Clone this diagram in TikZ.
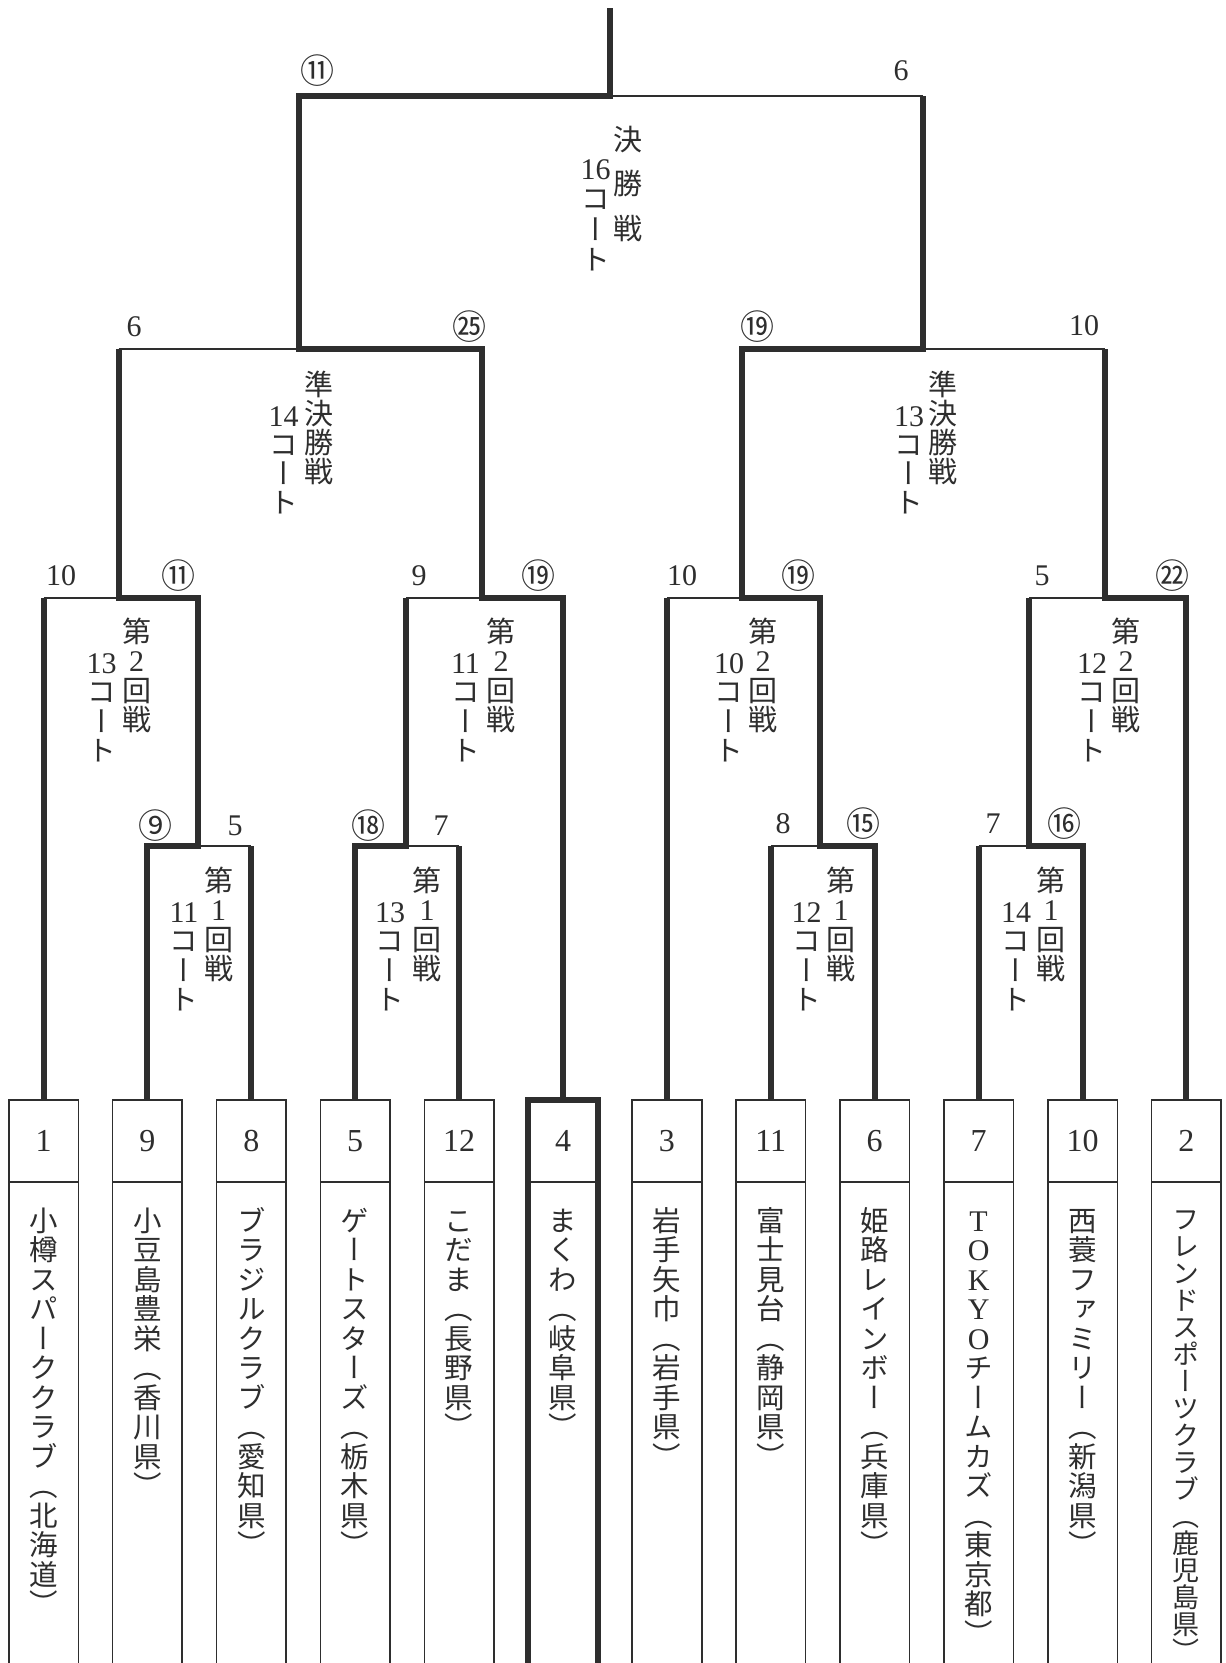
\documentclass[tikz,border=0pt]{standalone}
\usepackage{fontspec}
\newfontfamily\jpv{Noto Sans CJK JP}[RawFeature=+vert]
\newfontfamily\jpc{Noto Sans CJK JP}
\newfontfamily\serd{Liberation Serif}
\definecolor{ink}{gray}{0.18}
\newdimen\tateht \newdimen\tatedp \newdimen\tatewd
\newcommand\tatechar[1]{\hbox to\tatewd{\hss\vrule width0pt height\tateht depth\tatedp\relax\smash{#1}\hss}}
\def\tateloop#1{\ifx\relax#1\else\tatechar{#1}\expandafter\tateloop\fi}
\newcommand\vtext[2][14.75pt]{\vbox{\offinterlineskip
  \tateht=\dimexpr(#1+0.76em)/2\relax
  \tatedp=\dimexpr(#1-0.76em)/2\relax
  \tatewd=1.6em
  \tateloop#2\relax}}
\newcommand\digf{\serd\fontsize{15pt}{15pt}\selectfont}
\tikzset{
 thickln/.style={line width=3pt, draw=ink, line join=miter},
 thinln/.style={line width=0.8pt, draw=ink},
 teambox/.style={minimum width=34.8pt, minimum height=281.5pt, inner sep=0pt, outer sep=0pt},
 teamnum/.style={font=\serd\fontsize{16pt}{16pt}\selectfont, text=ink, inner sep=0pt},
 tname/.style={font=\jpv\fontsize{14.25pt}{15pt}\selectfont, text=ink, inner sep=0pt, anchor=north},
 court/.style={font=\jpv\fontsize{14.5pt}{15pt}\selectfont, text=ink, inner sep=0pt, anchor=north},
 score/.style={font=\serd\fontsize{15pt}{15pt}\selectfont, text=ink, inner sep=0pt},
 cscore/.style={font=\jpc\fontsize{17pt}{17pt}\selectfont, text=ink, inner sep=0pt},
}
\begin{document}
\begin{tikzpicture}[x=0.5pt,y=-0.5pt]
\useasboundingbox (0,0) rectangle (1225,1663);
\fill[white] (0,0) rectangle (1225,1663);
% helper levels
\coordinate (numy) at (0,1141);
\coordinate (divy) at (0,1182);
\coordinate (namey) at (0,1205.25);
% team boxes
\node[teambox] (t1) at (43.5,1381.5) {};
\node[teambox] (t9) at (147.4,1381.5) {};
\node[teambox] (t8) at (251.3,1381.5) {};
\node[teambox] (t5) at (355.2,1381.5) {};
\node[teambox] (t12) at (459.1,1381.5) {};
\node[teambox] (t4) at (563.0,1381.5) {};
\node[teambox] (t3) at (666.9,1381.5) {};
\node[teambox] (t11) at (770.8,1381.5) {};
\node[teambox] (t6) at (874.7,1381.5) {};
\node[teambox] (t7) at (978.6,1381.5) {};
\node[teambox] (t10) at (1082.5,1381.5) {};
\node[teambox] (t2) at (1186.4,1381.5) {};
\foreach \t in {t1,t9,t8,t5,t12,t3,t11,t6,t7,t10,t2}{
  \draw[thinln] (\t.south west) -- (\t.north west) -- (\t.north east) -- (\t.south east);
  \draw[thinln] (\t.west |- divy) -- (\t.east |- divy);
}
\draw[thickln] (t4.south west) -- (t4.north west) -- (t4.north east) -- (t4.south east);
\draw[thinln] (t4.west |- divy) -- (t4.east |- divy);
% team numbers
\node[teamnum] (n1) at (t1.north |- numy) {1};
\node[teamnum] (n9) at (t9.north |- numy) {9};
\node[teamnum] (n8) at (t8.north |- numy) {8};
\node[teamnum] (n5) at (t5.north |- numy) {5};
\node[teamnum] (n12) at (t12.north |- numy) {12};
\node[teamnum] (n4) at (t4.north |- numy) {4};
\node[teamnum] (n3) at (t3.north |- numy) {3};
\node[teamnum] (n11) at (t11.north |- numy) {11};
\node[teamnum] (n6) at (t6.north |- numy) {6};
\node[teamnum] (n7) at (t7.north |- numy) {7};
\node[teamnum] (n10) at (t10.north |- numy) {10};
\node[teamnum] (n2) at (t2.north |- numy) {2};
% team names
\node[tname] (name1) at (t1.north |- namey) {\vtext{小樽スパーククラブ（北海道）}};
\node[tname] (name9) at (t9.north |- namey) {\vtext{小豆島豊栄（香川県）}};
\node[tname] (name8) at (t8.north |- namey) {\vtext{ブラジルクラブ（愛知県）}};
\node[tname] (name5) at (t5.north |- namey) {\vtext{ゲートスターズ（栃木県）}};
\node[tname] (name12) at (t12.north |- namey) {\vtext{こだま（長野県）}};
\node[tname] (name4) at (t4.north |- namey) {\vtext{まくわ（岐阜県）}};
\node[tname] (name3) at (t3.north |- namey) {\vtext{岩手矢巾（岩手県）}};
\node[tname] (name11) at (t11.north |- namey) {\vtext{富士見台（静岡県）}};
\node[tname] (name6) at (t6.north |- namey) {\vtext{姫路レインボー（兵庫県）}};
\node[tname] (name7) at (t7.north |- namey) {\vtext{{\digf T}{\digf O}{\digf K}{\digf Y}{\digf O}チームカズ（東京都）}};
\node[tname] (name10) at (t10.north |- namey) {\vtext{西蓑ファミリー（新潟県）}};
\node[tname, font=\jpv\fontsize{13.5pt}{14pt}\selectfont] (name2) at (t2.north |- namey) {\vtext[13.5pt]{フレンドスポーツクラブ（鹿児島県）}};
% match joints
\coordinate (m1a) at (198,846);
\coordinate (m1b) at (406,846);
\coordinate (m1c) at (820,846);
\coordinate (m1d) at (1029,846);
\coordinate (m2a) at (118.5,598);
\coordinate (m2b) at (482,598);
\coordinate (m2c) at (742,598);
\coordinate (m2d) at (1105,598);
\coordinate (m3a) at (298.5,349);
\coordinate (m3b) at (923,349);
\coordinate (m4) at (610,96);
\coordinate (top) at (610,8);
% losing halves (thin)
\draw[thinln] (m1a) -- (t8.north |- m1a);
\draw[thinln] (t12.north |- m1b) -- (m1b);
\draw[thinln] (t11.north |- m1c) -- (m1c);
\draw[thinln] (t7.north |- m1d) -- (m1d);
\draw[thinln] (t1.north |- m2a) -- (m2a);
\draw[thinln] (m1b |- m2b) -- (m2b);
\draw[thinln] (t3.north |- m2c) -- (m2c);
\draw[thinln] (m1d |- m2d) -- (m2d);
\draw[thinln] (m2a |- m3a) -- (m3a);
\draw[thinln] (m3b) -- (m2d |- m3b);
\draw[thinln] (m4) -- (m3b |- m4);
% thick lines
\draw[thickln] (t4.north) |- (m2b) |- (m3a) |- (m4) -- (top);
\draw[thickln] (t9.north) |- (m1a) |- (m2a) -- (m2a |- m3a);
\draw[thickln] (t8.north) -- (t8.north |- m1a);
\draw[thickln] (t1.north) -- (t1.north |- m2a);
\draw[thickln] (t5.north) |- (m1b) -- (m1b |- m2b);
\draw[thickln] (t12.north) -- (t12.north |- m1b);
\draw[thickln] (t6.north) |- (m1c) |- (m2c) |- (m3b) -- (m3b |- m4);
\draw[thickln] (t11.north) -- (t11.north |- m1c);
\draw[thickln] (t3.north) -- (t3.north |- m2c);
\draw[thickln] (t10.north) |- (m1d) -- (m1d |- m2d);
\draw[thickln] (t7.north) -- (t7.north |- m1d);
\draw[thickln] (t2.north) |- (m2d) -- (m2d |- m3b);
% scores
\node[cscore] (sf1) at (317.5,71) {⑪};
\node[score] (sf2) at (901,71) {6};
\node[score] (ss1) at (134,327) {6};
\node[cscore] (ss2) at (469,327) {㉕};
\node[cscore] (ss3) at (757,327) {⑲};
\node[score] (ss4) at (1084,326) {10};
\node[score] (s21) at (61,576) {10};
\node[cscore] (s22) at (178,576) {⑪};
\node[score] (s23) at (419,576) {9};
\node[cscore] (s24) at (538,576) {⑲};
\node[score] (s25) at (682,576) {10};
\node[cscore] (s26) at (798,576) {⑲};
\node[score] (s27) at (1042,576) {5};
\node[cscore] (s28) at (1172,576) {㉒};
\node[cscore] (s11) at (155.5,826) {⑨};
\node[score] (s12) at (235,826) {5};
\node[cscore] (s13) at (368,826) {⑱};
\node[score] (s14) at (441,826) {7};
\node[score] (s15) at (783,824) {8};
\node[cscore] (s16) at (863,824) {⑮};
\node[score] (s17) at (993,824) {7};
\node[cscore] (s18) at (1064,824) {⑯};
% round / court labels
\node[court] (fin-r) at (628,116.75) {\vtext[22.25pt]{決勝戦}};
\node[court] (fin-c) at (595.5,152.85) {\vtext[15.15pt]{{\digf16}コート}};
\node[court] (sfa-r) at (319,369.5) {\vtext[14.5pt]{準決勝戦}};
\node[court] (sfa-c) at (283.5,400.5) {\vtext[14.5pt]{{\digf14}コート}};
\node[court] (sfb-r) at (943,369.5) {\vtext[14.5pt]{準決勝戦}};
\node[court] (sfb-c) at (909,400.5) {\vtext[14.5pt]{{\digf13}コート}};
\node[court] (r2a-r) at (136.5,616.35) {\vtext[14.65pt]{第{\digf2}回戦}};
\node[court] (r2a-c) at (101.5,647.35) {\vtext[14.65pt]{{\digf13}コート}};
\node[court] (r2b-r) at (501,616.35) {\vtext[14.65pt]{第{\digf2}回戦}};
\node[court] (r2b-c) at (465.5,647.35) {\vtext[14.65pt]{{\digf11}コート}};
\node[court] (r2c-r) at (763,616.35) {\vtext[14.65pt]{第{\digf2}回戦}};
\node[court] (r2c-c) at (729,647.35) {\vtext[14.65pt]{{\digf10}コート}};
\node[court] (r2d-r) at (1126,616.35) {\vtext[14.65pt]{第{\digf2}回戦}};
\node[court] (r2d-c) at (1092,647.35) {\vtext[14.65pt]{{\digf12}コート}};
\node[court] (r1a-r) at (218.5,865.25) {\vtext{第{\digf1}回戦}};
\node[court] (r1a-c) at (184,896.25) {\vtext{{\digf11}コート}};
\node[court] (r1b-r) at (427,865.25) {\vtext{第{\digf1}回戦}};
\node[court] (r1b-c) at (390,896.25) {\vtext{{\digf13}コート}};
\node[court] (r1c-r) at (841,865.25) {\vtext{第{\digf1}回戦}};
\node[court] (r1c-c) at (806.5,896.25) {\vtext{{\digf12}コート}};
\node[court] (r1d-r) at (1051,865.25) {\vtext{第{\digf1}回戦}};
\node[court] (r1d-c) at (1016,896.25) {\vtext{{\digf14}コート}};
\end{tikzpicture}
\end{document}
